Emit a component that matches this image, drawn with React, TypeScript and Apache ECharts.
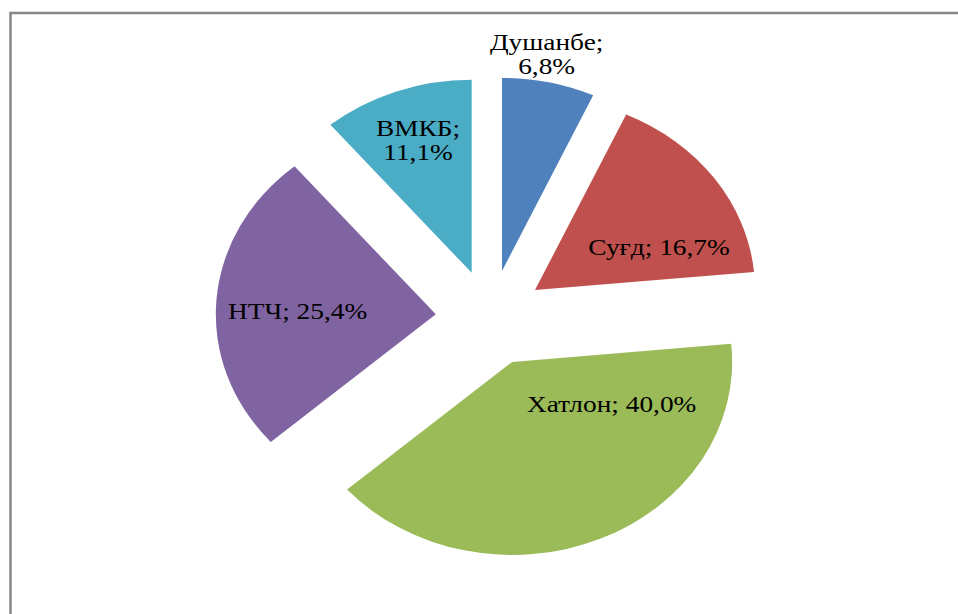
import React, { useEffect, useRef } from "react";
import * as echarts from "echarts";

// ---- data ----
const NAMES: string[] = ["Душанбе", "Суғд", "Хатлон", "НТЧ", "ВМКБ"];
const VALUES: number[] = [6.8, 16.7, 40.0, 25.4, 11.1];
const COLORS: string[] = ["#4F81BD", "#C0504D", "#9BBB59", "#8064A2", "#4BACC6"];

// ---- layout (not data) ----
const CX = 490.4;
const CY = 317.9;
const R = 193;
const EXPLODE = 48;
const SX = 1.14; // horizontal stretch of the whole picture
const LABEL_ANGLE_DEG = [10.6, 64.4, 129.1, 272.3, 340.4];
const LABEL_RADIUS = [1.39, 0.85, 0.71, 0.877, 0.98];
const LABEL_BREAK = [true, false, false, false, true];
const FONT = "normal normal 24px 'Liberation Serif', 'Times New Roman', serif";

function fmtPct(v: number): string {
  return v.toFixed(1).replace(".", ",") + "%";
}

export default function App() {
  const ref = useRef<HTMLDivElement>(null);

  useEffect(() => {
    if (!ref.current) return;
    document.body.style.margin = "0";
    document.body.style.overflow = "hidden";
    const chart = echarts.init(ref.current, undefined, { renderer: "svg" });
    const total = VALUES.reduce((a, b) => a + b, 0);

    const option: any = {
      animation: false,
      backgroundColor: "#ffffff",
      graphic: [
        {
          type: "polyline",
          silent: true,
          shape: { points: [[10.5, 614], [10.5, 13], [958, 13]] },
          style: { fill: "none", stroke: "#868686", lineWidth: 2.5 },
          z: 0,
        },
      ],
      series: [
        {
          type: "custom",
          coordinateSystem: "none",
          data: VALUES.map((v) => [v]),
          renderItem: (params: any, api: any) => {
            const i = params.dataIndex;
            const before = VALUES.slice(0, i).reduce((a, b) => a + b, 0);
            const v = api.value(0);
            const start = (before / total) * Math.PI * 2;
            const end = ((before + v) / total) * Math.PI * 2;
            const mid = (start + end) / 2;
            const ox = EXPLODE * Math.sin(mid);
            const oy = -EXPLODE * Math.cos(mid);
            const a = (LABEL_ANGLE_DEG[i] * Math.PI) / 180;
            const f = LABEL_RADIUS[i];
            const lx = CX + SX * R * f * Math.sin(a);
            const ly = CY - R * f * Math.cos(a);
            const text = NAMES[i] + ";" + (LABEL_BREAK[i] ? "\n" : " ") + fmtPct(v);
            return {
              type: "group",
              children: [
                {
                  type: "sector",
                  x: CX,
                  y: CY,
                  scaleX: SX,
                  shape: {
                    cx: ox,
                    cy: oy,
                    r: R,
                    r0: 0,
                    startAngle: start - Math.PI / 2,
                    endAngle: end - Math.PI / 2,
                    clockwise: true,
                  },
                  style: { fill: COLORS[i] },
                },
                {
                  type: "text",
                  x: lx,
                  y: ly,
                  scaleX: SX,
                  z2: 10,
                  style: {
                    text,
                    fill: "#000000",
                    font: FONT,
                    fontFamily: "Liberation Serif",
                    fontSize: 24,
                    lineHeight: 24,
                    align: "center",
                    verticalAlign: "middle",
                  },
                },
              ],
            };
          },
        },
      ],
    };
    chart.setOption(option);
    return () => chart.dispose();
  }, []);

  return (
    <div
      ref={ref}
      style={{ position: "fixed", left: 0, top: 0, width: 958, height: 614, background: "#fff" }}
    />
  );
}
